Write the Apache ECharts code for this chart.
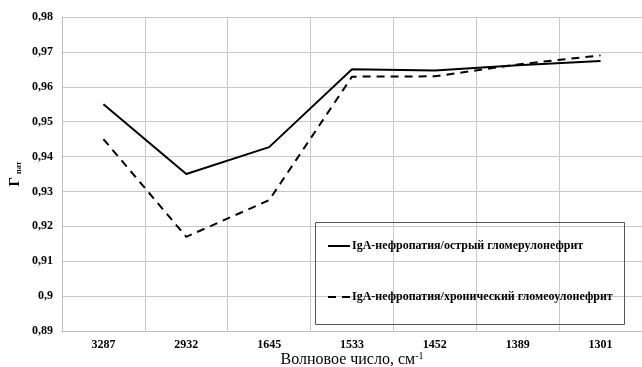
<!DOCTYPE html>
<html><head><meta charset="utf-8">
<script src="https://cdn.jsdelivr.net/npm/echarts@6/dist/echarts.min.js"></script>
<style>html,body{margin:0;padding:0;background:#fff}#c{width:642px;height:367px}</style>
</head><body><div id="c"></div>
<script>
const categories = ['3287','2932','1645','1533','1452','1389','1301'];
const seriesNames = ['IgA-нефропатия/острый гломерулонефрит','IgA-нефропатия/хронический гломеоулонефрит'];
const acuteValues = [0.955, 0.935, 0.9427, 0.965, 0.9647, 0.9662, 0.9674];
const chronicValues = [0.945, 0.917, 0.9275, 0.9629, 0.963, 0.9664, 0.969];
const yTicks = {min: 0.89, max: 0.98, step: 0.01};

const serif = '"Liberation Serif", "DejaVu Serif", serif';
const chart = echarts.init(document.getElementById('c'));
chart.setOption({
  animation: false,
  backgroundColor: '#fff',
  grid: {left: 62, right: 0, top: 17, bottom: 36, containLabel: false, outerBoundsMode: 'none'},
  xAxis: {
    type: 'category', data: categories, boundaryGap: true,
    axisLine: {lineStyle: {color: '#bfbfbf', width: 1}},
    axisTick: {show: false},
    splitLine: {show: true, interval: 0, lineStyle: {color: '#c8c8c8', width: 1}},
    axisLabel: {fontFamily: serif, fontWeight: 'bold', fontSize: 12, color: '#000', margin: 8, interval: 0},
    name: '{t|Волновое число, см}{s|-1}', nameLocation: 'middle', nameGap: 20, nameMoveOverlap: false,
    nameTextStyle: {rich: {
      t: {fontFamily: serif, fontSize: 16, color: '#000', lineHeight: 18},
      s: {fontFamily: serif, fontSize: 10, color: '#000', verticalAlign: 'top', lineHeight: 10}
    }}
  },
  yAxis: {
    type: 'value', min: yTicks.min, max: yTicks.max, interval: yTicks.step,
    axisLine: {show: true, lineStyle: {color: '#bfbfbf', width: 1}},
    axisTick: {show: false},
    splitLine: {show: true, lineStyle: {color: '#c8c8c8', width: 1}},
    axisLabel: {fontFamily: serif, fontWeight: 'bold', fontSize: 12, color: '#000', margin: 9,
      formatter: v => String(Math.round(v * 100) / 100).replace('.', ',')},
    name: '{g|Г}{p|пат}', nameLocation: 'middle', nameGap: 39, nameRotate: 90, nameMoveOverlap: false,
    nameTextStyle: {rich: {
      g: {fontFamily: serif, fontSize: 15, fontWeight: 'bold', color: '#000', lineHeight: 16},
      p: {fontFamily: serif, fontSize: 8, fontWeight: 'bold', color: '#000', verticalAlign: 'bottom', lineHeight: 8, padding: [0,0,0,3]}
    }}
  },
  legend: {
    orient: 'vertical', left: 327, top: 240, itemGap: 39, padding: 0,
    itemWidth: 22, itemHeight: 14,
    itemStyle: {opacity: 0, color: 'rgba(0,0,0,0)', borderWidth: 0},
    textStyle: {fontFamily: serif, fontWeight: 'bold', fontSize: 12, color: '#000', padding: [0,0,0,-3]},
    data: seriesNames
  },
  graphic: [{type: 'rect', left: 313, top: 220, shape: {width: 309, height: 102},
    style: {fill: 'none', stroke: '#555', lineWidth: 1}, z: 100}],
  series: [
    {name: seriesNames[0], type: 'line', data: acuteValues, symbol: 'none',
     lineStyle: {color: '#000', width: 2, type: 'solid'}, itemStyle: {color: '#000'}},
    {name: seriesNames[1], type: 'line', data: chronicValues, symbol: 'none',
     lineStyle: {color: '#000', width: 2, type: [8, 6]}, itemStyle: {color: '#000'}}
  ]
});
</script></body></html>
